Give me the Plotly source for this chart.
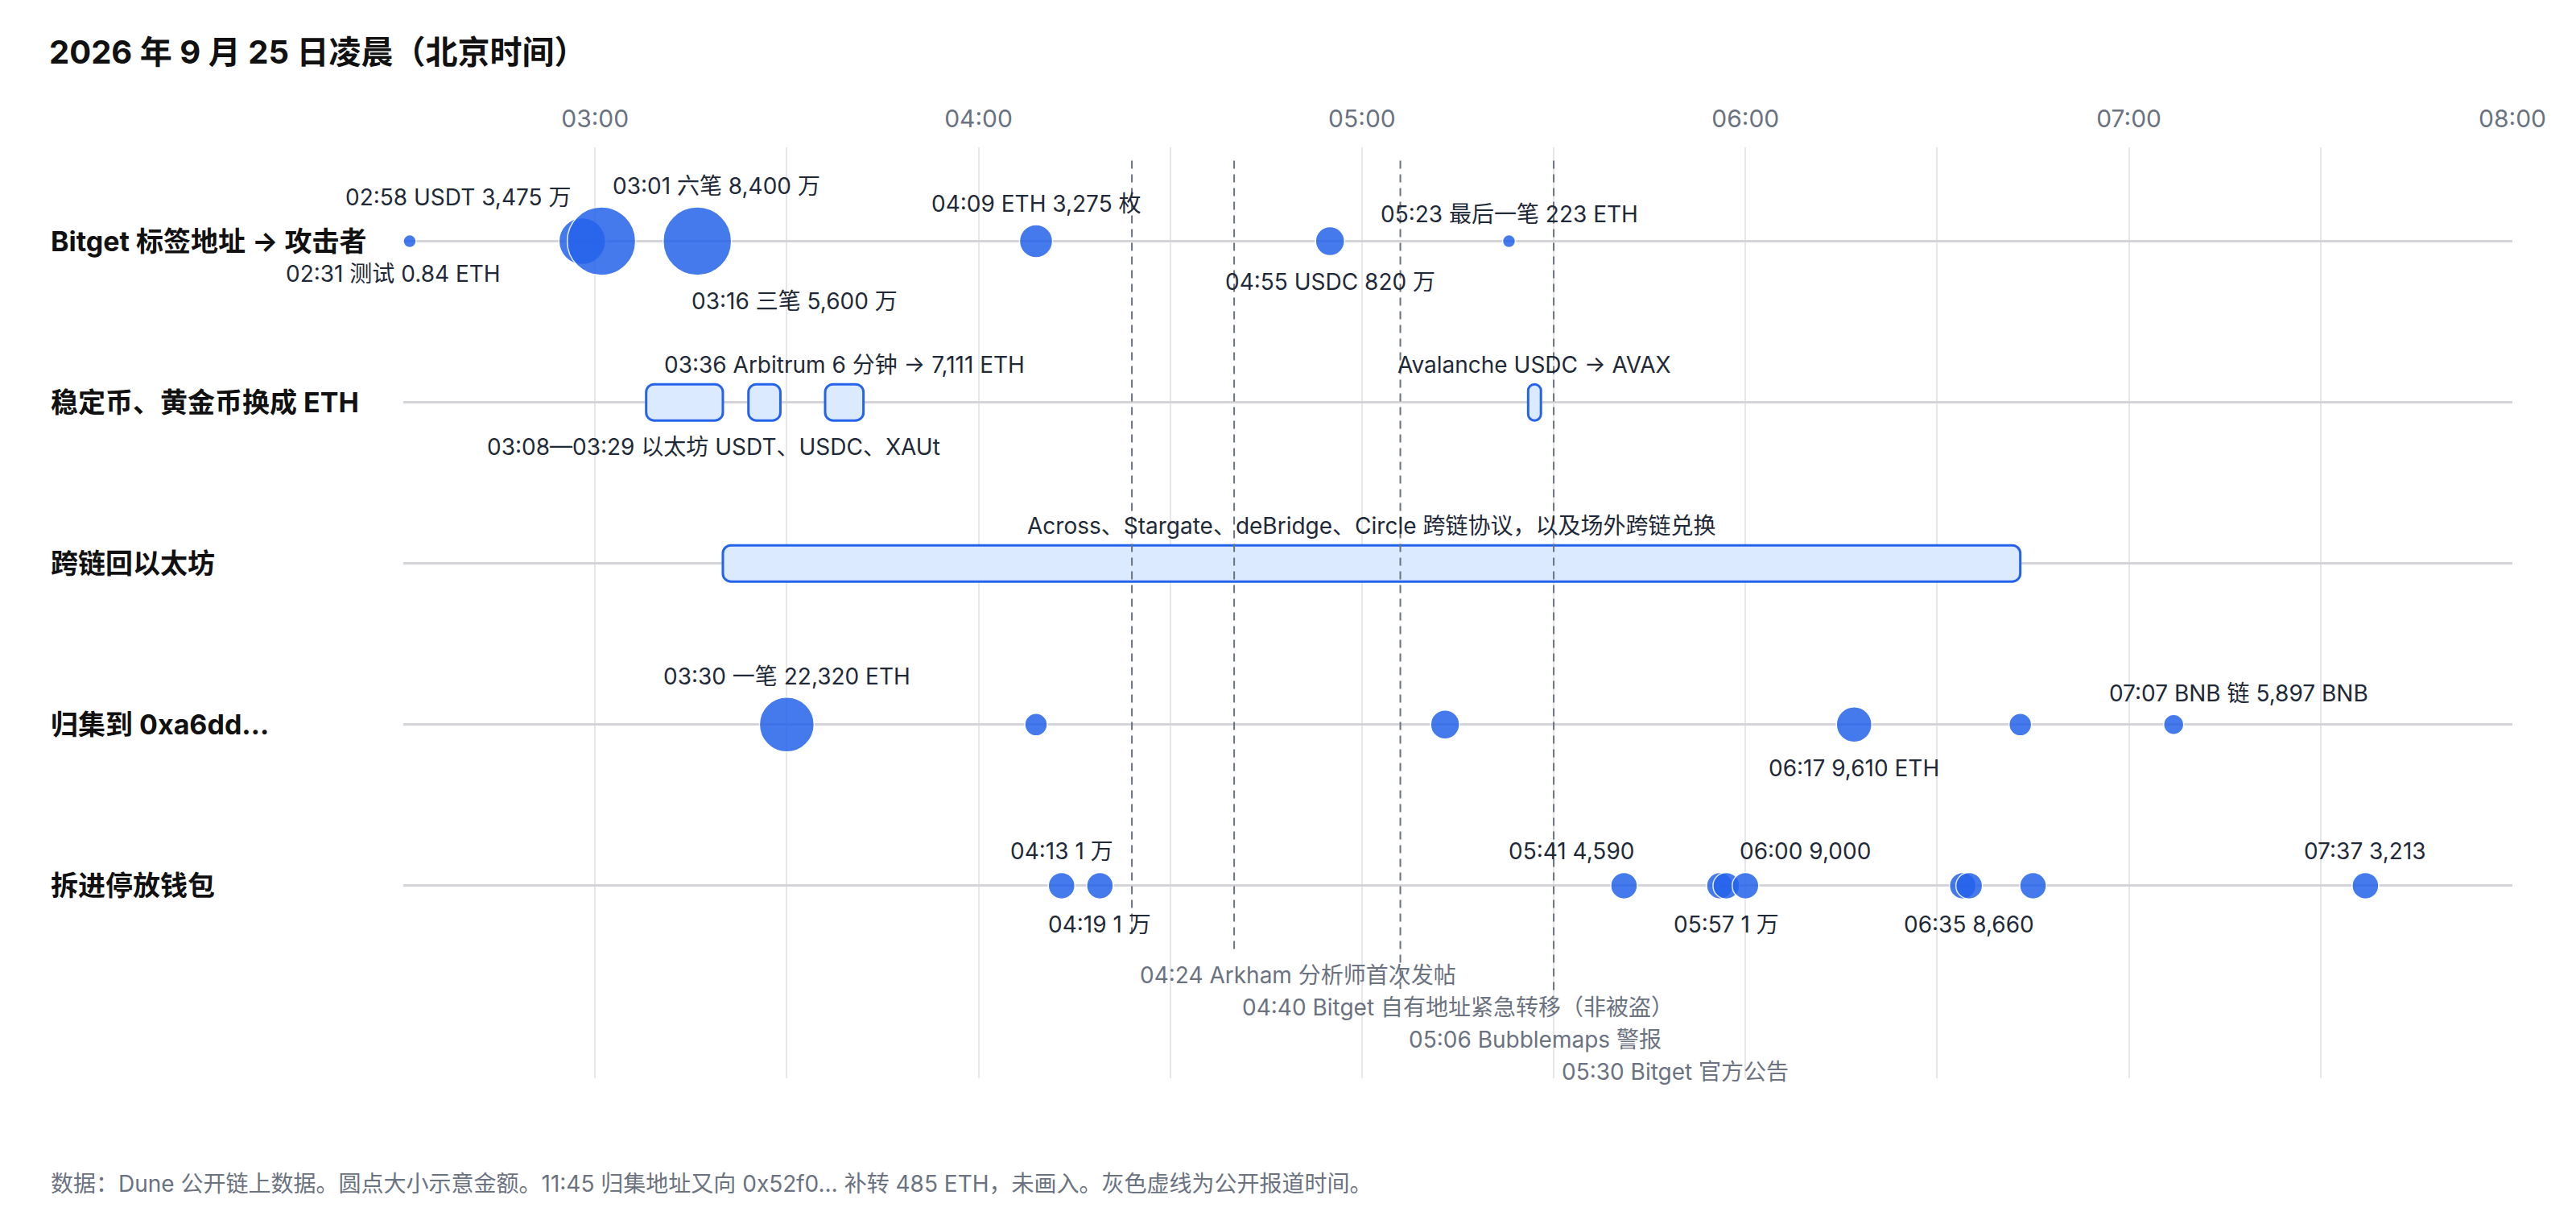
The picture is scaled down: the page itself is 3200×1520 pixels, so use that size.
import math
from datetime import datetime

import plotly.graph_objects as go

day = "2026-09-25 "

rows = ["Bitget 标签地址 → 攻击者", "稳定币、黄金币换成 ETH", "跨链回以太坊", "归集到 0xa6dd…", "拆进停放钱包"]

# Bitget 标签地址 -> 攻击者（金额约合万美元，按圆点面积估读）
out_time = ["02:31", "02:58", "03:01", "03:16", "04:09", "04:55", "05:23"]
out_amt = [0.3, 3475, 7460, 7460, 1740, 1340, 89]
out_text = ["02:31 测试 0.84 ETH", "02:58 USDT 3,475 万", "03:01 六笔 8,400 万", "03:16 三笔 5,600 万",
            "04:09 ETH 3,275 枚", "04:55 USDC 820 万", "05:23 最后一笔 223 ETH"]

# 归集到 0xa6dd…
col_time = ["03:30", "04:09", "05:13", "06:17", "06:43", "07:07"]
col_amt = [4775, 810, 1340, 2000, 810, 645]
col_text = ["03:30 一笔 22,320 ETH", "", "", "06:17 9,610 ETH", "", "07:07 BNB 链 5,897 BNB"]

# 拆进停放钱包
park_time = ["04:13", "04:19", "05:41", "05:56", "05:57", "06:00", "06:34", "06:35", "06:45", "07:37"]
park_amt = [1125, 1125, 1125, 1125, 1125, 1125, 1125, 1125, 1125, 1125]
park_text = ["04:13 1 万", "04:19 1 万", "05:41 4,590", "", "05:57 1 万", "06:00 9,000", "", "06:35 8,660", "",
             "07:37 3,213"]

# 时间段（换币、跨链）
span_row = [1, 1, 1, 1, 2]
span_from = ["03:08", "03:24", "03:36", "05:26", "03:20"]
span_to = ["03:20", "03:29", "03:42", "05:28", "06:43"]

span_lbl_text = ["03:36 Arbitrum 6 分钟 → 7,111 ETH", "03:08—03:29 以太坊 USDT、USDC、XAUt", "Avalanche USDC → AVAX",
                 "Across、Stargate、deBridge、Circle 跨链协议，以及场外跨链兑换"]
span_lbl_row = [1, 1, 1, 2]
span_lbl_from = ["03:36", "03:08", "05:26", "03:20"]
span_lbl_to = ["03:42", "03:29", "05:28", "06:43"]

# 公开报道时间
news_time = ["04:24", "04:40", "05:06", "05:30"]
news_text = ["04:24 Arkham 分析师首次发帖", "04:40 Bitget 自有地址紧急转移（非被盗）", "05:06 Bubblemaps 警报",
             "05:30 Bitget 官方公告"]

note = "数据：Dune 公开链上数据。圆点大小示意金额。11:45 归集地址又向 0x52f0… 补转 485 ETH，未画入。灰色虚线为公开报道时间。"

FONT = "Inter, Noto Sans CJK SC, sans-serif"
BLUE = "#2563eb"
K = 0.984      # 圆点直径 = K * sqrt(金额)
SIZEMIN = 16


def ts(hm):
    return datetime.strptime(day + hm, "%Y-%m-%d %H:%M")


def diam(v):
    return max(K * math.sqrt(v), SIZEMIN)


fig = go.Figure()

# 时间段条
fig.add_trace(go.Bar(
    y=[rows[r] for r in span_row],
    base=[day + s for s in span_from],
    x=[(ts(e) - ts(s)).total_seconds() * 1000 for s, e in zip(span_from, span_to)],
    orientation="h", width=0.225,
    marker=dict(color="#dbeafe", line=dict(color=BLUE, width=3), cornerradius=10),
    hoverinfo="skip", showlegend=False,
))

for row, times, amts in [(0, out_time, out_amt), (3, col_time, col_amt), (4, park_time, park_amt)]:
    fig.add_trace(go.Scatter(
        x=[day + t for t in times], y=[rows[row]] * len(times), mode="markers",
        marker=dict(size=[diam(v) for v in amts], sizemode="diameter", color=BLUE, opacity=0.85,
                    line=dict(color="white", width=1.5)),
        showlegend=False,
    ))

annotations = []


def bubble_label(row, t, v, text, side, anchor="center", dx=0):
    if not text:
        return
    r = diam(v) / 2
    dy = r + 26 if side == "up" else -(r + 32)
    annotations.append(dict(x=day + t, y=rows[row], text=text, showarrow=False, xanchor=anchor, yanchor="middle",
                            xshift=dx, yshift=dy, font=dict(size=28, color="#1f2937")))


out_pos = [("down", "center", -20), ("up", "right", -12), ("up", "left", 12), ("down", "left", -9),
           ("up", "center", 0), ("down", "center", 0), ("up", "center", 0)]
col_pos = [("up", "center", 0), None, None, ("down", "center", 0), None, ("up", "center", 81)]
park_pos = [("up", "center", 0), ("down", "center", 0), ("up", "right", 15), None, ("down", "center", 0),
            ("up", "left", -9), None, ("down", "center", 0), None, ("up", "center", 0)]

for row, times, amts, texts, pos in [(0, out_time, out_amt, out_text, out_pos),
                                     (3, col_time, col_amt, col_text, col_pos),
                                     (4, park_time, park_amt, park_text, park_pos)]:
    for t, v, txt, p in zip(times, amts, texts, pos):
        if p:
            bubble_label(row, t, v, txt, *p)

span_side = [47, -55, 47, 47]
for txt, r, s, e, dy in zip(span_lbl_text, span_lbl_row, span_lbl_from, span_lbl_to, span_side):
    mid = ts(s) + (ts(e) - ts(s)) / 2
    annotations.append(dict(x=mid.strftime("%Y-%m-%d %H:%M:%S"), y=rows[r], text=txt, showarrow=False,
                            yanchor="middle", yshift=dy, font=dict(size=28, color="#1f2937")))

# 报道虚线：线底端与标签位置（y 为行序号坐标）
line_end = [4.30, 4.42, 4.64, 4.65]
label_y = [4.553, 4.753, 4.953, 5.153]
shapes = []
for t, txt, y1, ly in zip(news_time, news_text, line_end, label_y):
    shapes.append(dict(type="line", xref="x", yref="y", x0=day + t, x1=day + t, y0=-0.5, y1=y1,
                       line=dict(color="#6b7280", width=2, dash="10px,7px"), layer="above"))
    annotations.append(dict(x=day + t, y=ly, text=txt, showarrow=False, xanchor="left", yanchor="middle",
                            xshift=8, font=dict(size=28, color="#6b7280")))

for i, name in enumerate(rows):
    annotations.append(dict(xref="paper", x=0, xshift=-440, y=name, yref="y", text="<b>" + name + "</b>",
                            showarrow=False, xanchor="left", yanchor="middle", font=dict(size=34, color="#111111")))

annotations.append(dict(xref="paper", yref="paper", x=0, y=0, xshift=-440, yshift=-131, text=note, showarrow=False,
                        xanchor="left", yanchor="middle", font=dict(size=28, color="#6b7280")))

fig.update_layout(
    width=3200, height=1520,
    margin=dict(l=501, r=79, t=183, b=181),
    paper_bgcolor="white", plot_bgcolor="white",
    font=dict(family=FONT),
    title=dict(text="<b>2026 年 9 月 25 日凌晨（北京时间）</b>", x=61 / 3200, xref="container", xanchor="left",
               y=1 - 65 / 1520, yref="container", yanchor="middle", font=dict(size=40, color="#111111")),
    xaxis=dict(type="date", range=[day + "02:30", day + "08:00"], side="top", tick0=day + "03:00", dtick=3600000,
               tickformat="%H:%M", showgrid=True, gridcolor="#e5e7eb", gridwidth=2,
               minor=dict(tick0=day + "03:30", dtick=3600000, showgrid=True, gridcolor="#e5e7eb", gridwidth=2),
               zeroline=False, showline=False, ticks="", tickfont=dict(size=30, color="#6b7280"),
               ticklabelstandoff=18),
    yaxis=dict(type="category", categoryarray=rows, range=[5.195, -0.5825], showticklabels=False, showgrid=True,
               gridcolor="#d4d4d8", gridwidth=2.5, zeroline=False),
    shapes=shapes,
    annotations=annotations,
    barmode="overlay",
    hovermode="closest",
)

fig.write_html("out.html", config={"displayModeBar": False},
               post_script="document.body.style.margin='0';document.body.style.overflow='hidden';")
